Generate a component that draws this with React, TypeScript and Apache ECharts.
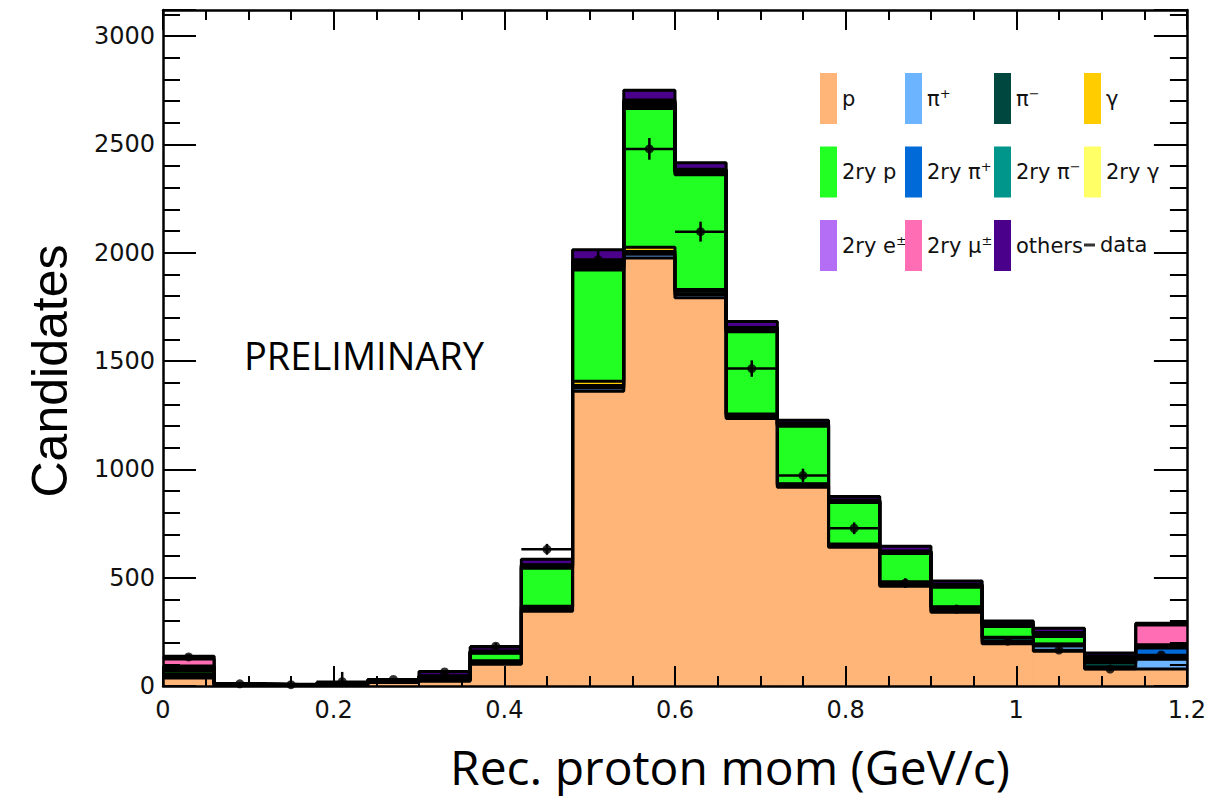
import React, { useEffect, useRef } from 'react';
import * as echarts from 'echarts';

// Bin edges (GeV/c)
const binEdges = [0, 0.06, 0.12, 0.18, 0.24, 0.3, 0.36, 0.42, 0.48, 0.54, 0.6, 0.66, 0.72, 0.78, 0.84, 0.9, 0.96, 1.02, 1.08, 1.14, 1.2];

// Stacked MC components (bottom to top)
const pData = [37, 3, 2, 4, 16, 22, 100, 345, 1360, 1975, 1792, 1235, 917, 640, 460, 340, 195, 160, 78, 78];
const piPlus = [5, 1, 1, 1, 2, 3, 5, 8, 15, 18, 15, 8, 6, 5, 6, 8, 10, 25, 10, 45];
const piMinus = [10, 2, 1, 2, 2, 4, 8, 10, 12, 12, 15, 8, 8, 7, 12, 16, 18, 8, 20, 6];
const gammaData = [2, 0, 0, 0, 1, 2, 3, 5, 20, 20, 8, 4, 3, 3, 3, 2, 2, 1, 1, 1];
const secP = [14, 1, 1, 2, 3, 8, 35, 175, 513, 640, 530, 380, 265, 192, 130, 90, 50, 35, 12, 10];
const secPiPlus = [8, 1, 1, 1, 1, 2, 3, 5, 12, 12, 8, 6, 4, 3, 4, 4, 4, 6, 5, 35];
const secPiMinus = [6, 1, 0, 1, 1, 2, 3, 5, 10, 10, 8, 6, 4, 3, 3, 3, 3, 4, 5, 8];
const secGamma = [2, 0, 0, 0, 0, 1, 1, 2, 4, 4, 2, 2, 1, 1, 1, 1, 1, 1, 1, 1];
const secE = [8, 0, 0, 0, 0, 1, 2, 3, 8, 8, 4, 3, 2, 2, 2, 2, 2, 2, 2, 6];
const secMu = [33, 1, 0, 1, 1, 2, 2, 2, 6, 6, 3, 3, 2, 2, 2, 2, 2, 5, 5, 92];
const othersData = [12, 2, 2, 3, 3, 20, 18, 25, 53, 45, 30, 27, 14, 17, 22, 17, 13, 20, 13, 8];

// Data points
const dataVals = [134, 10, 6, 20, 30, 65, 184, 631, 1968, 2479, 2097, 1465, 972, 728, 475, 355, 207, 166, 78, 143];
const dataErr = [12, 3, 3, 45, 6, 9, 14, 25, 44, 50, 46, 38, 31, 27, 22, 19, 14, 13, 9, 12];

const labels = ['p', 'π+', 'π−', 'γ', '2ry p', '2ry π+', '2ry π−', '2ry γ', '2ry e±', '2ry μ±', 'others'];
const colors = ['#FFB478', '#6CB4FF', '#00483F', '#FFCC00', '#22FF22', '#006AD8', '#00968C', '#FFFF66', '#B36EF5', '#FF6EB4', '#4B008C'];
const components = [pData, piPlus, piMinus, gammaData, secP, secPiPlus, secPiMinus, secGamma, secE, secMu, othersData];

const yTicks = { min: 0, max: 3120, major: 500, minor: 100 };
const xTicks = { min: 0, max: 1.2, major: 0.2 };

export default function App() {
  const ref = useRef<HTMLDivElement>(null);
  useEffect(() => {
    if (!ref.current) return;
    const chart = echarts.init(ref.current, undefined, { renderer: 'svg' });
    const nBins = binEdges.length - 1;
    const cum: number[][] = [];
    let run = new Array(nBins).fill(0);
    components.forEach((arr) => {
      run = run.map((v: number, i: number) => v + arr[i]);
      cum.push(run.slice());
    });

    const fillSeries = components.map((arr, k) => ({
      type: 'custom',
      name: labels[k],
      xAxisIndex: 0,
      yAxisIndex: 0,
      z: 2,
      itemStyle: { color: colors[k] },
      encode: { x: [0, 1], y: [2, 3] },
      data: arr.map((_, i) => [binEdges[i], binEdges[i + 1], k === 0 ? 0 : cum[k - 1][i], cum[k][i]]),
      renderItem: (params: any, api: any) => {
        const p0 = api.coord([api.value(0), api.value(3)]);
        const p1 = api.coord([api.value(1), api.value(2)]);
        return {
          type: 'rect',
          shape: { x: p0[0], y: p0[1], width: p1[0] - p0[0], height: p1[1] - p0[1] },
          style: { fill: colors[k], stroke: colors[k], lineWidth: 1 },
        };
      },
    }));

    const outlineSeries = cum.map((levels) => ({
      type: 'line',
      xAxisIndex: 0,
      yAxisIndex: 0,
      step: 'end',
      symbol: 'none',
      silent: true,
      z: 4,
      lineStyle: { color: '#000', width: 3 },
      data: levels.map((v, i) => [binEdges[i], v]).concat([[binEdges[nBins], levels[nBins - 1]]]),
    }));

    const errSeries = {
      type: 'custom',
      name: 'dataErr',
      xAxisIndex: 0,
      yAxisIndex: 0,
      z: 5,
      encode: { x: [0, 1], y: [2] },
      data: dataVals.map((v, i) => [binEdges[i], binEdges[i + 1], v, dataErr[i]]),
      renderItem: (params: any, api: any) => {
        const x0 = api.value(0), x1 = api.value(1), y = api.value(2), e = api.value(3);
        const xc = (x0 + x1) / 2;
        const a = api.coord([x0, y]);
        const b = api.coord([x1, y]);
        const t = api.coord([xc, y + e]);
        const u = api.coord([xc, Math.max(0, y - e)]);
        return {
          type: 'group',
          children: [
            { type: 'line', shape: { x1: a[0], y1: a[1], x2: b[0], y2: b[1] }, style: { stroke: '#000', lineWidth: 2.5 } },
            { type: 'line', shape: { x1: t[0], y1: t[1], x2: u[0], y2: u[1] }, style: { stroke: '#000', lineWidth: 2.5 } },
          ],
        };
      },
    };

    const dataSeries = {
      type: 'scatter',
      name: 'data',
      xAxisIndex: 0,
      yAxisIndex: 0,
      z: 6,
      symbol: 'circle',
      symbolSize: 9,
      itemStyle: { color: '#000' },
      data: dataVals.map((v, i) => [(binEdges[i] + binEdges[i + 1]) / 2, v]),
    };

    const legendText = {
      fontFamily: 'DejaVu Sans',
      fontSize: 21,
      color: '#111',
      lineHeight: 24,
      rich: {
        s: { fontFamily: 'DejaVu Sans', fontSize: 13, color: '#111', verticalAlign: 'top', lineHeight: 13 },
      },
    };
    const legendFmt = (name: string) => name.replace(/([+−±])$/, '{s|$1}');
    const legendBase = {
      orient: 'vertical',
      padding: 0,
      itemWidth: 17,
      itemHeight: 51,
      itemGap: 22.5,
      icon: 'rect',
      selectedMode: false,
      textStyle: legendText,
      formatter: legendFmt,
    };

    const tickLine = { color: '#000', width: 2 };
    const axisLine = { onZero: false, lineStyle: { color: '#000', width: 2.5 } };
    const labelStyle = { fontFamily: 'DejaVu Sans', fontSize: 24, color: '#111' };

    const option: any = {
      animation: false,
      backgroundColor: '#fff',
      grid: { left: 163, right: 22, top: 10, bottom: 116, containLabel: false },
      legend: [
        { ...legendBase, left: 820, top: 73, data: ['p', '2ry p', '2ry e±'] },
        { ...legendBase, left: 905, top: 73, data: ['π+', '2ry π+', '2ry μ±'] },
        { ...legendBase, left: 994, top: 73, data: ['π−', '2ry π−', 'others'] },
        { ...legendBase, left: 1084, top: 73, data: ['γ', '2ry γ'] },
        { ...legendBase, left: 1084, top: 233, itemWidth: 11, itemHeight: 3, data: [{ name: 'data', icon: 'rect' }] },
      ],
      xAxis: [
        {
          type: 'value', min: xTicks.min, max: xTicks.max, interval: xTicks.major, position: 'bottom', z: 10,
          axisLine, axisTick: { inside: true, length: 20, lineStyle: tickLine },
          minorTick: { show: true, splitNumber: 4, length: 10, lineStyle: tickLine },
          splitLine: { show: false }, minorSplitLine: { show: false },
          axisLabel: { ...labelStyle, margin: 12 },
        },
        {
          type: 'value', min: xTicks.min, max: xTicks.max, interval: xTicks.major, position: 'top', z: 10,
          axisLine, axisTick: { inside: true, length: 20, lineStyle: tickLine },
          minorTick: { show: true, splitNumber: 4, length: 10, lineStyle: tickLine },
          splitLine: { show: false }, axisLabel: { show: false },
        },
      ],
      yAxis: [
        {
          type: 'value', min: yTicks.min, max: yTicks.max, interval: yTicks.major, position: 'left', z: 10,
          axisLine, axisTick: { inside: true, length: 33, lineStyle: tickLine },
          splitLine: { show: false },
          axisLabel: { ...labelStyle, margin: 8, formatter: (v: number) => (v % yTicks.major === 0 ? String(v) : '') },
        },
        {
          type: 'value', min: yTicks.min, max: yTicks.max, interval: yTicks.major, position: 'right', z: 10,
          axisLine, axisTick: { inside: true, length: 33, lineStyle: tickLine },
          splitLine: { show: false }, axisLabel: { show: false },
        },
        {
          type: 'value', min: yTicks.min, max: yTicks.max, interval: yTicks.minor, position: 'left', z: 10,
          axisLine: { show: false, onZero: false }, axisTick: { inside: true, length: 17, lineStyle: tickLine },
          splitLine: { show: false }, axisLabel: { show: false },
        },
        {
          type: 'value', min: yTicks.min, max: yTicks.max, interval: yTicks.minor, position: 'right', z: 10,
          axisLine: { show: false, onZero: false }, axisTick: { inside: true, length: 17, lineStyle: tickLine },
          splitLine: { show: false }, axisLabel: { show: false },
        },
      ],
      graphic: [
        {
          type: 'text', x: 244, y: 355,
          style: { text: 'PRELIMINARY', font: '38px "Open Sans"', fill: '#000', align: 'left', verticalAlign: 'middle' },
        },
        {
          type: 'text', x: 730, y: 766,
          style: { text: 'Rec. proton mom (GeV/c)', font: '48px "Open Sans"', fill: '#000', align: 'center', verticalAlign: 'middle' },
        },
        {
          type: 'text', x: 50, y: 371, rotation: Math.PI / 2,
          style: { text: 'Candidates', font: '50px "Liberation Sans"', fill: '#000', align: 'center', verticalAlign: 'middle' },
        },
      ],
      series: [...fillSeries, ...outlineSeries, errSeries, dataSeries],
    };
    chart.setOption(option);
    return () => chart.dispose();
  }, []);
  return <div ref={ref} style={{ position: 'fixed', left: 0, top: 0, width: 1209, height: 802 }} />;
}
